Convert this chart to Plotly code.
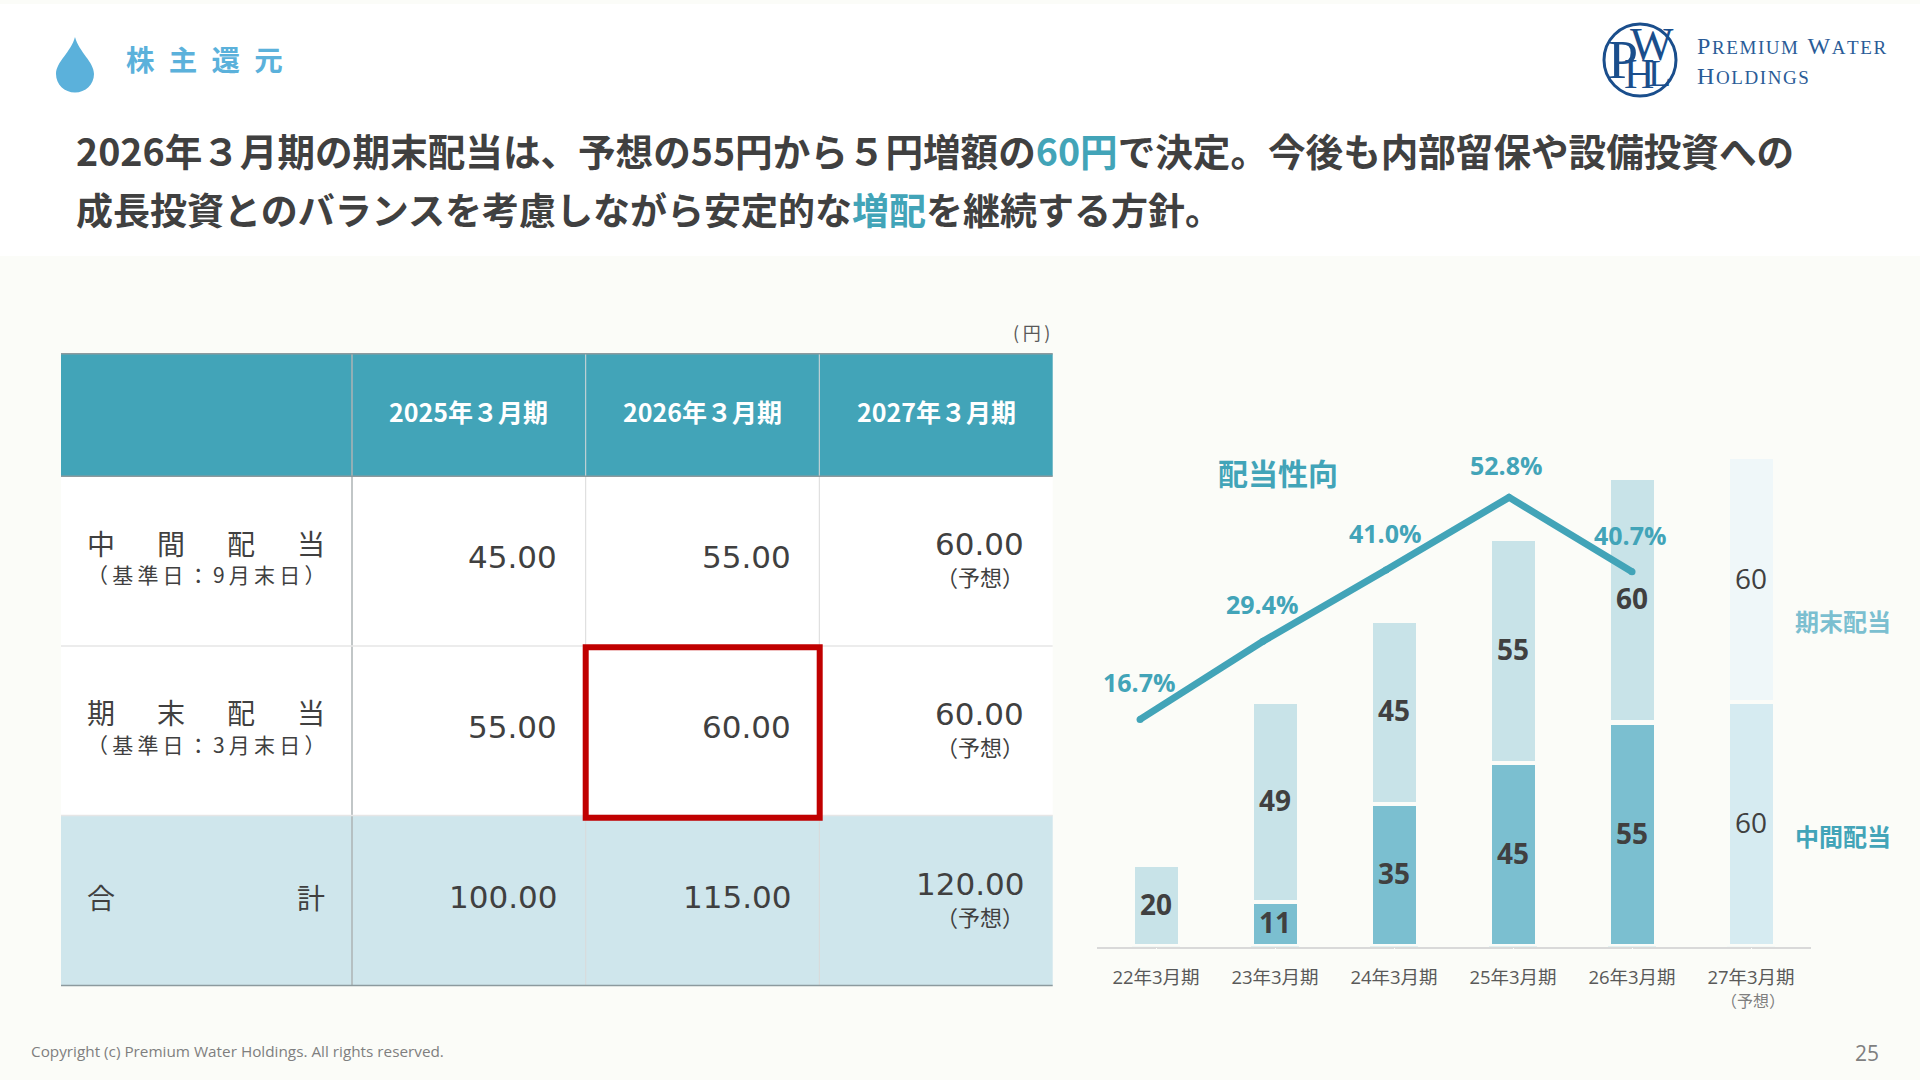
import plotly.graph_objects as go

# ---- chart data ----
periods = ["22年3月期", "23年3月期", "24年3月期", "25年3月期", "26年3月期", "27年3月期"]
interim = [None, 11, 35, 45, 55, 60]
year_end = [20, 49, 45, 55, 60, 60]
forecast_flags = [False, False, False, False, False, True]
payout_labels = ["16.7%", "29.4%", "41.0%", "52.8%", "40.7%"]
payout_values = [16.7, 29.4, 41.0, 52.8, 40.7]
payout_offsets = [37, 37, 37, 32, 37]
payout_xoffsets = [0, 0, 0, -2, -1]

# ---- table data ----
table_headers = ["2025年３月期", "2026年３月期", "2027年３月期"]
row_interim = ["45.00", "55.00", "60.00"]
row_end = ["55.00", "60.00", "60.00"]
row_total = ["100.00", "115.00", "120.00"]

# ---- styles ----
BG = "#FBFCF8"
TEAL = "#42A4B8"
MID = "#7BBFD0"
END = "#C8E3E8"
MID_F = "#D6EBF1"
END_F = "#EFF7F9"
TXT = "#404040"
NAVY = "#1A4E8C"
CJK = "'Noto Sans CJK JP'"
SANS = "'Open Sans', " + CJK
DJV = "'DejaVu Sans', " + CJK
SERIF = "'Liberation Serif'"
W, H = 1920, 1080


def X(p):
    return p / W


def Y(p):
    return 1 - p / H


shapes = []
ann = []


def rect(x0, y0, x1, y1, fill=None, line=None, width=0, layer="below"):
    shapes.append(dict(type="rect", xref="paper", yref="paper", x0=X(x0), x1=X(x1), y0=Y(y1), y1=Y(y0),
                       fillcolor=fill or "rgba(0,0,0,0)", line=dict(color=line or "rgba(0,0,0,0)", width=width),
                       layer=layer))


def seg(x0, y0, x1, y1, color, width=1.0):
    shapes.append(dict(type="line", xref="paper", yref="paper", x0=X(x0), x1=X(x1), y0=Y(y0), y1=Y(y1),
                       line=dict(color=color, width=width), layer="below"))


def text(x, y, s, size, color=TXT, family=CJK, anchor="center"):
    ann.append(dict(xref="paper", yref="paper", x=X(x), y=Y(y), text=s, showarrow=False, xanchor=anchor,
                    yanchor="middle", align=anchor if anchor != "center" else "center",
                    font=dict(size=size, color=color, family=family)))


# header band
rect(0, 4, W, 256, fill="#FFFFFF")

# drop icon
pts = "M75,37 C79,52 94,62 94,74 C94,84.5 85.5,92.5 75,92.5 C64.5,92.5 56,84.5 56,74 C56,62 71,52 75,37 Z"


def drop_path():
    out = []
    for tok in pts.split():
        cmd = ""
        if tok[0].isalpha():
            cmd, tok = tok[0], tok[1:]
        if tok:
            a, b = tok.split(",")
            out.append(f"{cmd}{X(float(a)):.5f},{Y(float(b)):.5f}")
        else:
            out.append(cmd)
    return " ".join(out)


shapes.append(dict(type="path", xref="paper", yref="paper", path=drop_path(), fillcolor="#5BB1DB",
                   line=dict(width=0), layer="below"))
text(124, 59, "<b>株\u2002主\u2002還\u2002元</b>", 28.5, "#5BB1DB", CJK, "left")

# logo
shapes.append(dict(type="circle", xref="paper", yref="paper", x0=X(1604), x1=X(1676), y0=Y(96), y1=Y(24),
                   line=dict(color=NAVY, width=3), fillcolor="#FFFFFF", layer="below"))
for lx, ly, ch, sz in [(1622.5, 60, "P", 54), (1652, 45, "W", 46), (1639, 74, "H", 42), (1659, 73, "L", 38)]:
    text(lx, ly, ch, sz, NAVY, SERIF)


def spaced(s, sep="\u2009"):
    return sep.join(s)


BIG = '<span style="font-size:24px">%s</span>'
HAIR = "\u200a"
text(1695, 46, BIG % "P" + HAIR + spaced("REMIUM", HAIR) + "\u2002" + BIG % "W" + HAIR + spaced("ATER", HAIR),
     19, "#2A5C97", SERIF, "left")
text(1695, 76.5, BIG % "H" + HAIR + spaced("OLDINGS", HAIR), 19, "#2A5C97", SERIF, "left")

# headline
hl = lambda s: f'<span style="color:{TEAL}">{s}</span>'
text(74, 150, "<b>2026年３月期の期末配当は、予想の55円から５円増額の" + hl("60円")
     + "で決定。今後も内部留保や設備投資への</b>", 37.6, TXT, CJK, "left")
text(74, 209, "<b>成長投資とのバランスを考慮しながら安定的な" + hl("増配") + "を継続する方針。</b>",
     37.0, TXT, CJK, "left")

# table
cols = [61, 352, 585.7, 819.3, 1052.7]
rows = [353.8, 476.3, 646, 815.5, 985.5]
rect(cols[0], rows[0], cols[4], rows[1], fill=TEAL)
rect(cols[0], rows[1], cols[4], rows[3], fill="#FFFFFF")
rect(cols[0], rows[3], cols[4], rows[4], fill="#CFE6EC")
for cx, c in [(cols[2], "#D9D9D9"), (cols[3], "#D9D9D9")]:
    seg(cx, rows[0], cx, rows[4], c, 1)
seg(cols[1], rows[0], cols[1], rows[4], "#ADB3B5", 1.5)
seg(cols[0], rows[2], cols[4], rows[2], "#E6E6E6", 1.5)
seg(cols[0], rows[3], cols[4], rows[3], "#E6E6E6", 1.5)
for ry in (rows[0], rows[1], rows[4]):
    seg(cols[0], ry, cols[4], ry, "#8C9A9E", 1.5)

text(1031, 332, "(\u2009円\u2009)", 18, "#595959", CJK)

for i, h in enumerate(table_headers):
    text((cols[i + 1] + cols[i + 2]) / 2, 411, f"<b>{h}</b>", 25, "#FFFFFF")

SP = "\u3000\u2002"
text(206, 543, SP.join("中間配当"), 28)
text(206, 574, spaced("（基準日：9月末日）"), 21)
text(206, 712, SP.join("期末配当"), 28)
text(206, 744, spaced("（基準日：3月末日）"), 21)
text(206, 896.5, "合" + "\u3000" * 6 + "\u2002" + "計", 28)

val_right = [559, 793, 1026]
row_center = [557, 727, 897]
for r, vals in enumerate([row_interim, row_end, row_total]):
    for c, v in enumerate(vals):
        if c < 2:
            text(val_right[c], row_center[r], v, 31, TXT, DJV, "right")
        else:
            text(val_right[c], row_center[r] - 13, v, 31, TXT, DJV, "right")
            text(980, row_center[r] + 19, "（予想）", 22)

rect(585.7, 647.3, 819.7, 817.7, line="#C00000", width=6, layer="above")

# footer
text(29, 1051, "Copyright (c) Premium Water Holdings. All rights reserved.", 15.3, "#7F7F7F", SANS, "left")
text(1867, 1053, "25", 21, "#7F7F7F", SANS)

# chart captions
text(1278, 472, "<b>配当性向</b>", 30, TEAL)
text(1843, 620, "<b>期末配当</b>", 24, MID)
text(1843, 835, "<b>中間配当</b>", 24, TEAL)
text(1753, 1000, "（予想）", 16, "#7F7F7F")

fig = go.Figure()
for name, vals, c, cf in [("中間配当", interim, MID, MID_F), ("期末配当", year_end, END, END_F)]:
    colors = [cf if f else c for f in forecast_flags]
    fig.add_trace(go.Bar(
        x=periods, y=vals, name=name, cliponaxis=False,
        marker=dict(color=colors, line=dict(color=BG, width=4.6)), hoverinfo="skip",
    ))

# bar value labels sit at the middle of each stacked segment
for p, a, b, f in zip(periods, interim, year_end, forecast_flags):
    base = a or 0
    for v, mid in [(a, base / 2), (b, base + b / 2)]:
        if v is None:
            continue
        ann.append(dict(xref="x", yref="y", x=p, y=mid, yshift=2, showarrow=False,
                        text=str(v) if f else f"<b>{v}</b>", font=dict(size=28, color=TXT, family=SANS)))

line_x = list(range(len(payout_values)))
fig.add_trace(go.Scatter(
    x=line_x, y=payout_values, xaxis="x2", yaxis="y2", mode="lines+markers",
    line=dict(color=TEAL, width=7), marker=dict(color=TEAL, size=7), name="配当性向", hoverinfo="skip",
))
for i, (lb, v, off, xo) in enumerate(zip(payout_labels, payout_values, payout_offsets, payout_xoffsets)):
    ann.append(dict(xref="x2", yref="y2", x=i, y=v, yshift=off, xshift=xo - 1, text=f"<b>{lb}</b>", showarrow=False,
                    font=dict(size=25, color=TEAL, family=SANS)))

left, right = 1096.5, 1810.5
top, bottom = 440, 946.7
fig.update_layout(
    width=W, height=H, margin=dict(l=0, r=0, t=0, b=0), paper_bgcolor=BG, plot_bgcolor="rgba(0,0,0,0)",
    barmode="stack", bargap=0.6, showlegend=False, shapes=shapes, annotations=ann,
    font=dict(family=CJK, color=TXT),
    xaxis=dict(domain=[X(left), X(right)], type="category", categoryorder="array",
               categoryarray=periods, anchor="y", showline=True, linecolor="#D9D9D9", linewidth=1.5,
               showgrid=False, zeroline=False, ticks="outside", ticklen=13, tickcolor=BG,
               tickfont=dict(size=18.5, color="#595959", family=SANS), fixedrange=True),
    yaxis=dict(domain=[Y(bottom), Y(top)], range=[0, 124.2], visible=False, anchor="x", fixedrange=True),
    xaxis2=dict(domain=[X(left), X(right)], range=[-0.354, 5.451], overlaying="x", anchor="y2", visible=False,
                fixedrange=True),
    yaxis2=dict(domain=[Y(bottom), Y(top)], range=[-20.26, 62.13], overlaying="y", anchor="x2", visible=False,
                fixedrange=True),
)
fig.write_html("out.html", post_script="document.body.style.margin='0';document.body.style.overflow='hidden';",
               config={"displayModeBar": False})
